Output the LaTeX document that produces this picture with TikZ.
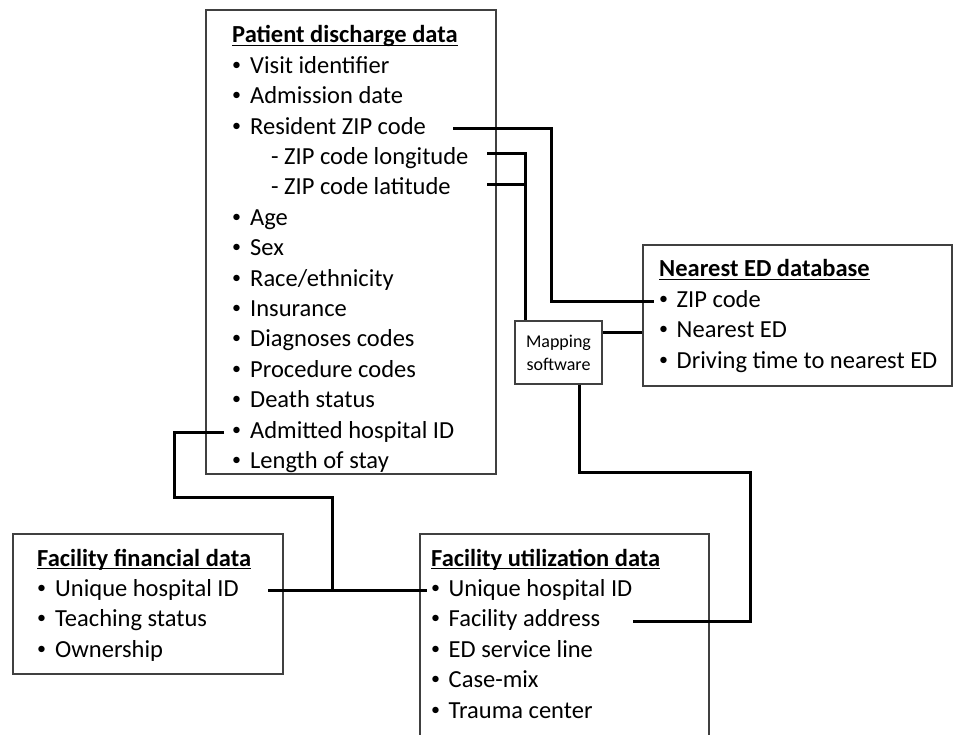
\documentclass[tikz,border=0pt]{standalone}
\usepackage{fontspec}
\setmainfont{Carlito}
\usetikzlibrary{positioning, calc}

\newcommand{\bul}[1][18pt]{\makebox[#1][l]{\raisebox{3pt}{\fontsize{18}{18}\selectfont\textbullet}}}
\newcommand{\ttl}[1]{\setbox0\hbox{\bfseries #1}\rlap{\rule[-3pt]{\wd0}{1.4pt}}\box0}

\begin{document}
\begin{tikzpicture}[
    x=1pt, y=-1pt, % pixel units, y pointing down
    node distance=7pt, % gap between list lines
    box/.style={draw=black!75, line width=2.6pt, inner sep=0pt},
    item/.style={font=\fontsize{24.5}{30}\selectfont, inner sep=0pt, text height=17pt, text depth=6pt, anchor=base west},
    link/.style={line width=3pt, line join=miter}
]
    \useasboundingbox (0,0) rectangle (954,735);

    % The boxes
    \node (pd) [box, minimum width=290pt, minimum height=464pt] at (351,242) {};
    \node (ned) [box, minimum width=309pt, minimum height=141pt] at (797.5,315.5) {};
    \node (map) [box, line width=2.2pt, minimum width=87pt, minimum height=63pt, align=center, font=\fontsize{18}{23}\selectfont] at (558.5,352.5) {Mapping\\software};
    \node (ffd) [box, minimum width=270pt, minimum height=140pt] at (148,604) {};
    \node (fud) [box, minimum width=289pt, minimum height=215pt] at (564.5,641.5) {};

    % Patient discharge data
    \node (pdt) [item] at (232,43) {\ttl{Patient discharge data}};
    \node (vid) [item, below=of pdt.south west, anchor=north west] {\bul Visit identifier};
    \node (adate) [item, below=of vid.south west, anchor=north west] {\bul Admission date};
    \node (rzip) [item, below=of adate.south west, anchor=north west] {\bul Resident ZIP code};
    \node (lon) [item, below=of rzip.south west, anchor=north west] {\hspace*{39pt}- ZIP code longitude};
    \node (lat) [item, below=of lon.south west, anchor=north west] {\hspace*{39pt}- ZIP code latitude};
    \node (age) [item, below=of lat.south west, anchor=north west] {\bul Age};
    \node (sex) [item, below=of age.south west, anchor=north west] {\bul Sex};
    \node (race) [item, below=of sex.south west, anchor=north west] {\bul Race/ethnicity};
    \node (ins) [item, below=of race.south west, anchor=north west] {\bul Insurance};
    \node (dx) [item, below=of ins.south west, anchor=north west] {\bul Diagnoses codes};
    \node (px) [item, below=of dx.south west, anchor=north west] {\bul Procedure codes};
    \node (death) [item, below=of px.south west, anchor=north west] {\bul Death status};
    \node (hosp) [item, below=of death.south west, anchor=north west] {\bul Admitted hospital ID};
    \node (los) [item, below=of hosp.south west, anchor=north west] {\bul Length of stay};

    % Nearest ED database
    \node (nedt) [item] at (659,277) {\ttl{Nearest ED database}};
    \node (nzip) [item, below=of nedt.south west, anchor=north west] {\bul[12pt] ZIP code};
    \node (nned) [item, below=of nzip.south west, anchor=north west] {\bul[12pt] Nearest ED};
    \node (drv) [item, below=of nned.south west, anchor=north west] {\bul[12pt] Driving time to nearest ED};

    % Facility financial data
    \node (ffdt) [item] at (37,566) {\ttl{Facility financial data}};
    \node (fuid) [item, below=of ffdt.south west, anchor=north west] {\bul Unique hospital ID};
    \node (teach) [item, below=of fuid.south west, anchor=north west] {\bul Teaching status};
    \node (own) [item, below=of teach.south west, anchor=north west] {\bul Ownership};

    % Facility utilization data
    \node (fudt) [item] at (431,566) {\ttl{Facility utilization data}};
    \node (uuid) [item, below=of fudt.south west, anchor=north west] {\bul[12pt] Unique hospital ID};
    \node (uaddr) [item, below=of uuid.south west, anchor=north west] {\bul[12pt] Facility address};
    \node (usvc) [item, below=of uaddr.south west, anchor=north west] {\bul[12pt] ED service line};
    \node (ucmix) [item, below=of usvc.south west, anchor=north west] {\bul[12pt] Case-mix};
    \node (utrauma) [item, below=of ucmix.south west, anchor=north west] {\bul[12pt] Trauma center};

    % Links between the data sets
    \draw [link] ($(pd.east |- rzip.east)+(-44,0)$) -| ($(nzip.west)+(-108,0)$) -- ($(nzip.west)+(-5,0)$);
    \draw [link] ($(pd.east |- lon.east)+(-10,-6)$) -| ($(map.north west)+(12,0)$);
    \draw [link] ($(pd.east |- lat.east)+(-10,-5)$) -| ($(map.north west)+(12,0)$);
    \draw [link] (map.east |- nned.west) -- (ned.west |- nned.west);
    \draw [link] ($(map.south)+(21,0)$) -- ++(0,87) -| ($(fud.east |- uaddr.east)+(40,0)$) -- ($(uaddr.east)+(33,0)$);
    \draw [link] ($(hosp.west)+(-8,0)$) -- ($(pd.west |- hosp.west)+(-30,0)$) -- ++(0,65) -| ($(ffd.east |- fuid.east)+(48,0)$);
    \draw [link] ($(fuid.east)+(29,0)$) -- ($(uuid.west)+(-4,0)$);
\end{tikzpicture}
\end{document}
